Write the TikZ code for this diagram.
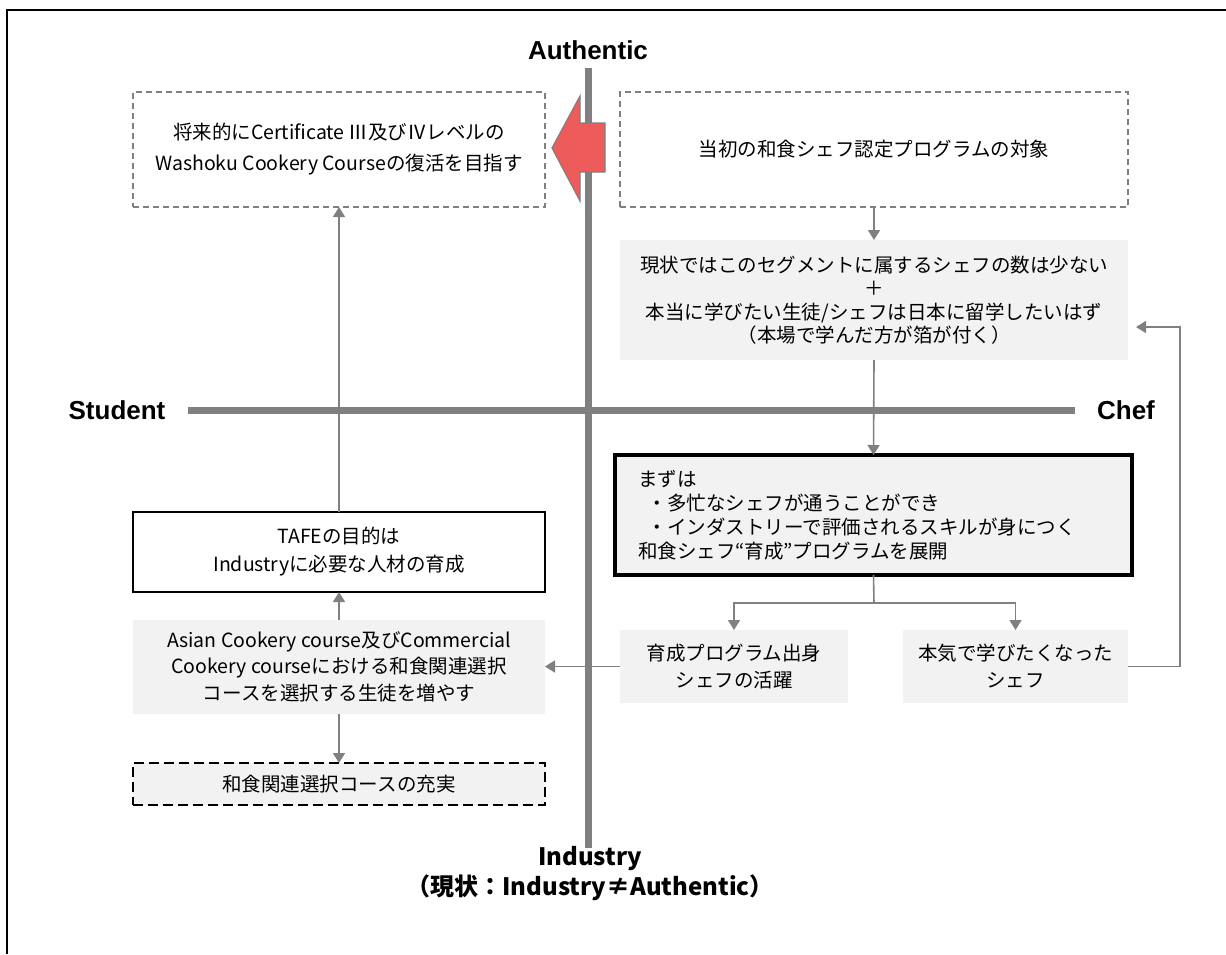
\documentclass[tikz,border=0pt]{standalone}
\usepackage{fontspec}
\setmainfont{Noto Sans CJK JP}
\newfontfamily\lsans{Liberation Sans}
\usetikzlibrary{arrows.meta}
\definecolor{axisgray}{HTML}{808080}
\definecolor{boxgray}{HTML}{F2F2F2}
\definecolor{arrowred}{HTML}{EE5B5B}
\definecolor{lngray}{HTML}{7F7F7F}
\begin{document}
\begin{tikzpicture}[x=1pt,y=-1pt,
  every node/.style={inner sep=0pt, outer sep=0pt, align=center},
  fs/.style={font=\fontsize{19.5}{#1}\selectfont},
  dashgray/.style={draw=lngray, line width=1.3pt, dash pattern=on 6pt off 4pt},
  graybox/.style={fill=boxgray},
  boldbox/.style={draw=black, fill=boxgray, line width=3.5pt},
  solidbox/.style={draw=black, fill=white, line width=1.5pt},
  dashblack/.style={draw=black, fill=boxgray, line width=2.2pt, dash pattern=on 10pt off 5pt},
  axis/.style={draw=axisgray, line width=7pt},
  lineg/.style={draw=axisgray, line width=1.6pt},
  conn/.style={lineg, -{Triangle[width=12pt,length=10pt]}},
  axislabel/.style={font=\lsans\bfseries\fontsize{26}{30}\selectfont},
  bottomlabel/.style={font=\bfseries\fontsize{24}{30}\selectfont}
]
\useasboundingbox (0,0) rectangle (1226,954);
\draw[line width=2pt] (1226,10) -- (7,10) -- (7,954);

% axes
\coordinate (atop) at (588,68);
\coordinate (abot) at (588,848);
\coordinate (aleft) at (188,410);
\coordinate (aright) at (1075,410);
\draw[axis] (atop) -- (abot);
\draw[axis] (aleft) -- (aright);

% axis labels
\node[axislabel] (auth) at (588,50) {Authentic};
\node[axislabel] (stud) at (117,410) {Student};
\node[axislabel] (chef) at (1126,410) {Chef};
\node[bottomlabel] (ind) at (590,874) {Industry\\（現状：Industry≠Authentic）};

% boxes
\node[dashgray, fs=31, minimum width=412pt, minimum height=115pt] (b1) at (339,149.5)
  {将来的にCertificate Ⅲ及びⅣレベルの\\Washoku Cookery Courseの復活を目指す};
\node[dashgray, fs=24, minimum width=508pt, minimum height=115pt] (b2) at (874,149.5)
  {\raisebox{-3pt}{当初の和食シェフ認定プログラムの対象}};
\node[graybox, fs=23.5, minimum width=508pt, minimum height=120pt] (b3) at (874,300)
  {現状ではこのセグメントに属するシェフの数は少ない\\＋\\本当に学びたい生徒/シェフは日本に留学したいはず\\（本場で学んだ方が箔が付く）};
\node[boldbox, fs=24, minimum height=120pt, text width=471pt, inner xsep=23pt, align=left] (b4) at (873.5,515)
  {まずは\\\hspace*{0.5em}・多忙なシェフが通うことができ\\\hspace*{0.5em}・インダストリーで評価されるスキルが身につく\\和食シェフ“育成”プログラムを展開};
\node[graybox, fs=27, minimum width=228pt, minimum height=73pt] (b5) at (734,666.5)
  {育成プログラム出身\\シェフの活躍};
\node[graybox, fs=27, minimum width=225pt, minimum height=73pt] (b6) at (1015.5,666.5)
  {本気で学びたくなった\\シェフ};
\node[graybox, fs=26.5, minimum width=412pt, minimum height=94pt] (b7) at (339,666.5)
  {Asian Cookery course及びCommercial\\Cookery courseにおける和食関連選択\\コースを選択する生徒を増やす};
\node[dashblack, fs=24, minimum width=412pt, minimum height=42pt] (b8) at (339,784)
  {和食関連選択コースの充実};
\node[solidbox, fs=28, minimum width=412pt, minimum height=80pt] (b9) at (339,552)
  {TAFEの目的は\\Industryに必要な人材の育成};

% red block arrow
\draw[draw=lngray, fill=arrowred, line width=1.2pt]
  (552,148) -- (580,96) -- (580,123) -- (605,123) -- (605,172) -- (580,172) -- (580,201) -- cycle;

% connectors
\draw[conn] (b9.north) -- (b1.south);
\draw[conn] (b7.north) -- (b9.south);
\draw[conn] (b7.south) -- (b8.north);
\draw[conn] (b2.south) -- (b3.north);
\draw[conn] (b3.south) -- (b4.north);
\coordinate (sp) at (874,603);
\draw[lineg] (b4.south) -- (sp);
\draw[conn] (sp) -| (b5.north);
\draw[conn] (sp) -| (b6.north);
\draw[conn] (b5.west) -- (b7.east);
\coordinate (fbc) at (1180,666.5);
\draw[conn, shorten >=8pt] (b6.east) -- (fbc) |- ([yshift=-27pt]b3.east);
\end{tikzpicture}
\end{document}
